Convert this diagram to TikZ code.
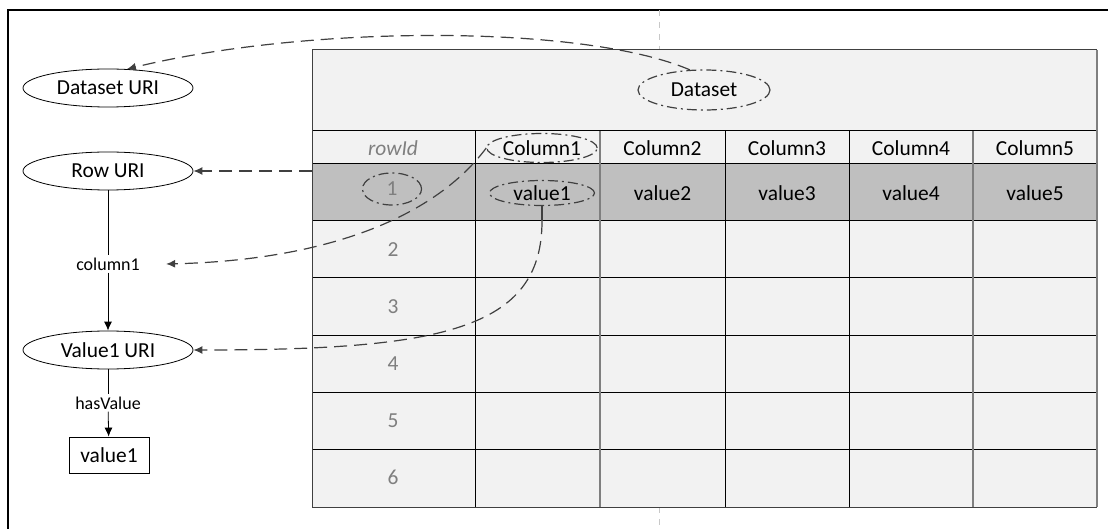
\documentclass[tikz,border=0pt]{standalone}
\usepackage{fontspec}
\setmainfont{Carlito}
\usepackage{xcolor}
\usetikzlibrary{shapes.geometric,arrows.meta}

\definecolor{cellgray}{HTML}{F2F2F2}
\definecolor{rowgray}{HTML}{BFBFBF}
\definecolor{numgray}{HTML}{7F7F7F}
\definecolor{darkline}{HTML}{404040}
\definecolor{guidegray}{HTML}{C8C8C8}

\tikzset{
 uri/.style={draw,ellipse,minimum width=85pt,minimum height=19pt,inner sep=0pt},
 lbl/.style={font=\fontsize{9}{10}\selectfont,inner sep=1pt},
 hilite/.style={draw=darkline,line width=0.6pt,ellipse,inner sep=0pt,dash pattern=on 5pt off 2pt on 1pt off 2pt},
 arr/.style={-{Latex[length=4.5pt,width=4pt]}},
 link/.style={draw=darkline,line width=0.6pt,dash pattern=on 6.5pt off 3.5pt,-{Latex[length=4.5pt,width=4pt]}},
 grid/.style={draw=black,line width=0.5pt},
 greygrid/.style={draw=numgray,line width=0.8pt}
}

\begin{document}
\begin{tikzpicture}[x=0.5pt,y=-0.5pt,font=\fontsize{10.7}{13}\selectfont]
 \useasboundingbox (0,0) rectangle (1108,529);

 % frame and page guide
 \draw[line width=0.8pt] (1108,10)--(8,10)--(8,529);
 \draw[guidegray,dashed] (659,10)--(659,50);
 \draw[guidegray,dashed] (659,507)--(659,529);

 % table
 \fill[cellgray] (312,50) rectangle (1097,507);
 \fill[rowgray] (312,164) rectangle (1097,221);
 \foreach \y in {131,164,221,278,335,392,449}
   \draw[grid] (312,\y)--(1097,\y);
 \foreach \x in {475,725,849}
   \draw[grid] (\x,131)--(\x,507);
 \foreach \x in {600,973}
   \draw[greygrid] (\x,131)--(\x,507);
 \draw[grid,draw=darkline] (1097,507)--(312,507)--(312,50)--(1097,50);
 \draw[greygrid,line width=1pt] (1097,50)--(1097,507);

 \node [hilite,minimum width=66pt,minimum height=20pt] (dsel) at (704,90) {Dataset};
 \node [text=numgray] (rid) at (393,148) {\itshape rowId};
 \node [hilite,minimum width=52.5pt,minimum height=14.5pt] (c1) at (542,148) {Column1};
 \node [hilite,minimum width=52.5pt,minimum height=12.5pt] (v1) at (542,193) {value1};
 \node [hilite,minimum width=29.5pt,minimum height=16pt,text=numgray] (r1) at (392,189) {1};

 \foreach \i/\x in {2/662.5,3/787,4/911,5/1035} {
   \node (c\i) at (\x,148) {Column\i};
   \node (v\i) at (\x,193) {value\i};
 }
 \foreach \n/\y in {2/249.5,3/306.5,4/363.5,5/420.5,6/477.5}
   \node [text=numgray] (r\n) at (393,\y) {\n};

 % left graph
 \node [uri] (dsuri) at (108,88) {Dataset URI};
 \node [uri] (rowuri) at (108,171) {Row URI};
 \node [lbl] (col1lbl) at (108,264) {column1};
 \node [uri] (valuri) at (108,350) {Value1 URI};
 \node [lbl] (haslbl) at (108,403) {hasValue};
 \node [draw,minimum width=40pt,minimum height=18pt,inner sep=0pt] (val) at (109,455) {value1};

 \draw (rowuri)--(col1lbl);
 \draw[arr] (col1lbl)--(valuri);
 \draw (valuri)--(haslbl);
 \draw[arr] (haslbl)--(val);

 % links from the table
 \coordinate (rowstart) at (312,171);
 \draw[link] (dsel.125) .. controls +(-105,-45) and +(185,-45) .. (dsuri.45);
 \draw[link] (rowstart)--(rowuri.east);
 \draw[link] (c1.west) .. controls +(-50,67) and +(165,-4) .. ([xshift=12pt]col1lbl.east);
 \draw[darkline,line width=0.6pt] (v1.south)--++(0,15) coordinate (v1tick);
 \draw[link] (v1tick) .. controls +(0,109) and +(247,0) .. (valuri.east);

\end{tikzpicture}
\end{document}
